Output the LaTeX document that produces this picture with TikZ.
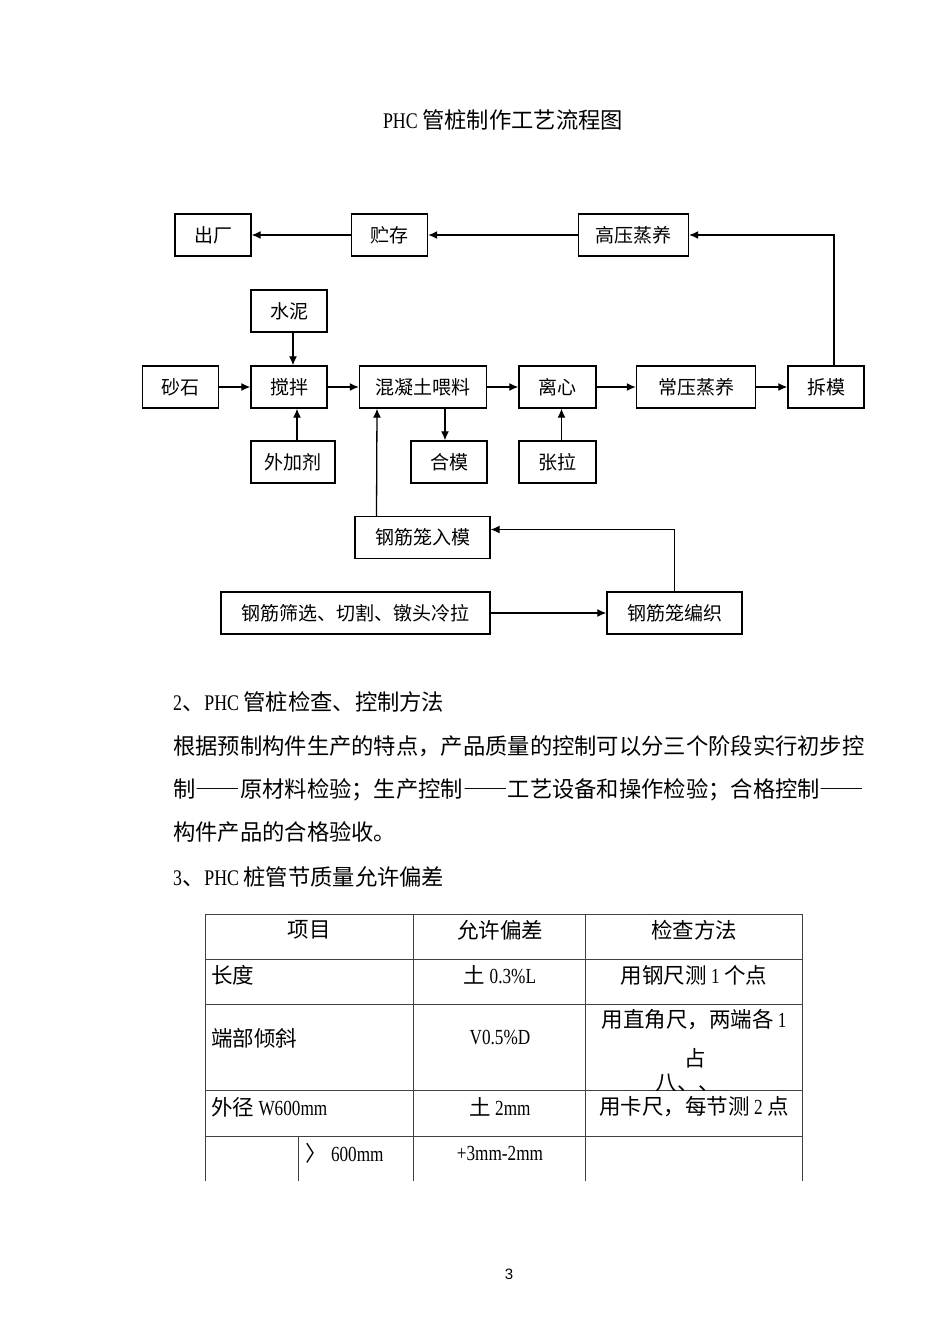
\documentclass[tikz,border=0pt]{standalone}
\usepackage{fontspec}
\setmainfont{Noto Sans CJK SC}
\newfontfamily\latfont[FakeStretch=0.8]{Liberation Serif}
\newfontfamily\pagefont{Liberation Sans}
\usetikzlibrary{arrows.meta}
\usetikzlibrary{positioning}
\newcommand\flowsize{\fontsize{19pt}{23pt}\selectfont}
\newcommand\bodysize{\fontsize{22.3pt}{26pt}\selectfont}
\newcommand\tabsize{\fontsize{21.5pt}{25pt}\selectfont}
\newcommand\fwdash{{\addfontfeatures{CharacterWidth=Full}——}}
\tikzset{%
    flowbox/.style={draw, line width=1.4pt, minimum height=42pt, inner sep=0pt, font=\flowsize},
    flow/.style={line width=1.3pt, -{Latex[length=9pt,width=8pt]}},
    tabline/.style={line width=0.8pt, draw=black!75},
    bodytext/.style={anchor=west, inner sep=0pt, font=\bodysize},
    tabtext/.style={inner sep=0pt, font=\tabsize},
}
\begin{document}
\begin{tikzpicture}[x=1pt,y=-1pt]
\fill [white] (0,0) rectangle (950,1344);
\node (title) [inner sep=0pt, font=\bodysize] at (503,120) {{\latfont PHC }管桩制作工艺流程图};
% flow chart
\node (out)    [flowbox, minimum width=76pt]  at (213,235)     {出厂};
\node (store)  [flowbox, minimum width=76pt]  at (389.5,235)   {贮存};
\node (hot)    [flowbox, minimum width=110pt] at (633.5,235)   {高压蒸养};
\node (cement) [flowbox, minimum width=76pt]  at (289,311)     {水泥};
\node (sand)   [flowbox, minimum width=76pt]  at (180.5,387)   {砂石};
\node (mix)    [flowbox, minimum width=76pt]  at (289,387)     {搅拌};
\node (feed)   [flowbox, minimum width=127pt] at (423,387)     {混凝土喂料};
\node (spin)   [flowbox, minimum width=77pt]  at (557.5,387)   {离心};
\node (warm)   [flowbox, minimum width=119pt] at (696,387)     {常压蒸养};
\node (strip)  [flowbox, minimum width=76pt]  at (826,387)     {拆模};
\node (admix)  [flowbox, minimum width=84pt]  at (293,462)     {外加剂};
\node (close)  [flowbox, minimum width=76pt]  at (449,462)     {合模};
\node (pull)   [flowbox, minimum width=77pt]  at (557.5,462)   {张拉};
\node (cage)   [flowbox, minimum width=135pt] at (422.5,537.5) {钢筋笼入模};
\node (rebar)  [flowbox, minimum width=269pt] at (355.5,613)   {钢筋筛选、切割、镦头冷拉};
\node (weave)  [flowbox, minimum width=135pt] at (674.5,613)   {钢筋笼编织};
\draw [flow] (sand) -- (mix);
\draw [flow] ([xshift=4pt]cement.south) -- ([xshift=4pt]mix.north);
\draw [flow] ([xshift=4pt]admix.north) -- ([xshift=8pt]mix.south);
\draw [flow] (mix) -- (feed);
\draw [flow] ([xshift=-46pt]cage.north) -- ([xshift=-46pt]feed.south);
\draw [flow] ([xshift=22pt]feed.south) -- ([xshift=-4pt]close.north);
\draw [flow] (feed) -- (spin);
\draw [flow] ([xshift=4pt]pull.north) -- ([xshift=4pt]spin.south);
\draw [flow] (spin) -- (warm);
\draw [flow] (warm) -- (strip);
\draw [flow, line width=1.1pt] ([xshift=8pt]strip.north) |- (hot);
\draw [flow] (hot) -- (store);
\draw [flow] (store) -- (out);
\draw [flow] (rebar) -- (weave);
\draw [flow, line width=1.1pt] (weave) |- ([yshift=8pt]cage.east);
% text
\node (head2) [bodytext] at (173,702) {{\latfont 2}、{\latfont PHC }管桩检查、控制方法};
\node (line1) [bodytext] at (173,746) {根据预制构件生产的特点，产品质量的控制可以分三个阶段实行初步控};
\node (line2) [bodytext] at (173,790) {制\fwdash 原材料检验；生产控制\fwdash 工艺设备和操作检验；合格控制\fwdash};
\node (line3) [bodytext] at (173,832) {构件产品的合格验收。};
\node (head3) [bodytext] at (173,877) {{\latfont 3}、{\latfont PHC }桩管节质量允许偏差};
% table
\foreach \r in {914,959,1004,1090,1136}
  \draw [tabline] (205,\r) -- (802,\r);
\foreach \c in {205,413,585,802}
  \draw [tabline] (\c,914) -- (\c,1181);
\draw [tabline] (298,1136) -- (298,1181);
\node (h1) [tabtext] at (309,930) {项目};
\node (h2) [tabtext] at (500,930) {允许偏差};
\node (h3) [tabtext] at (694,930) {检查方法};
\node (a1) [tabtext, anchor=west] at (211,975) {长度};
\node (a2) [tabtext] at (500,975) {土{\latfont\ 0.3\%L}};
\node (a3) [tabtext] at (694,975) {用钢尺测{\latfont\ 1 }个点};
\node (b1) [tabtext, anchor=west] at (211,1038) {端部倾斜};
\node (b2) [tabtext] at (500,1037) {{\latfont V0.5\%D}};
\node (b3) [tabtext] at (694,1020) {用直角尺，两端各{\latfont\ 1}};
\node (b4) [tabtext] at (695,1058) {占};
\begin{scope}
\clip (585,1004) rectangle (802,1090);
\node (b5) [tabtext] at (688,1083) {八、、};
\end{scope}
\node (c1) [tabtext, anchor=west] at (211,1107) {外径{\latfont\ W600mm}};
\node (c2) [tabtext] at (500,1107) {土{\latfont\ 2mm}};
\node (c3) [tabtext] at (694,1107) {用卡尺，每节测{\latfont\ 2 }点};
\node (d1) [tabtext, anchor=west] at (305,1153) {〉{\latfont\ 600mm}};
\node (d2) [tabtext] at (500,1153) {{\latfont +3mm-2mm}};
\node (page) [inner sep=0pt, font=\pagefont\fontsize{15pt}{18pt}\selectfont] at (509,1274) {3};
\end{tikzpicture}
\end{document}
